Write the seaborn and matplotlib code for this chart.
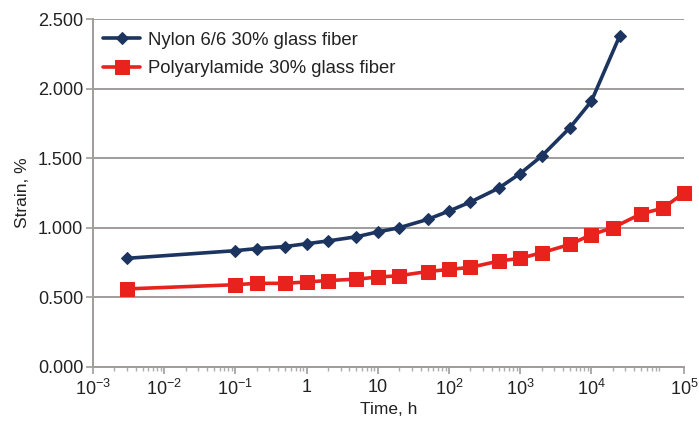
import numpy as np
import pandas as pd
import matplotlib
matplotlib.use("Agg")
import matplotlib.pyplot as plt
import matplotlib.ticker as mticker
import seaborn as sns

# Creep strain vs. time for two glass-filled polyamides
nylon_time = [0.003, 0.1, 0.2, 0.5, 1, 2, 5, 10, 20, 50, 100, 200, 500,
              1000, 2000, 5000, 10000, 25000]
nylon_strain = [0.78, 0.835, 0.85, 0.865, 0.885, 0.905, 0.935, 0.97, 1.0,
                1.06, 1.12, 1.185, 1.285, 1.39, 1.515, 1.72, 1.91, 2.38]

paa_time = [0.003, 0.1, 0.2, 0.5, 1, 2, 5, 10, 20, 50, 100, 200, 500,
            1000, 2000, 5000, 10000, 20000, 50000, 100000, 200000]
paa_strain = [0.56, 0.59, 0.60, 0.60, 0.61, 0.62, 0.63, 0.645, 0.655, 0.685,
              0.70, 0.715, 0.76, 0.78, 0.82, 0.88, 0.95, 1.0, 1.10, 1.14, 1.25]

series_names = ["Nylon 6/6 30% glass fiber", "Polyarylamide 30% glass fiber"]

x_ticks = [1e-3, 1e-2, 1e-1, 1, 10, 1e2, 1e3, 1e4, 2e5]
x_tick_labels = [r"$10^{-3}$", r"$10^{-2}$", r"$10^{-1}$", "1", "10",
                 r"$10^{2}$", r"$10^{3}$", r"$10^{4}$", r"$10^{5}$"]
y_ticks = [0.0, 0.5, 1.0, 1.5, 2.0, 2.5]

df = pd.concat([
    pd.DataFrame({"time": nylon_time, "strain": nylon_strain, "series": series_names[0]}),
    pd.DataFrame({"time": paa_time, "strain": paa_strain, "series": series_names[1]}),
])

sns.set_theme(style="white")
plt.rcParams["font.family"] = ["Liberation Sans", "DejaVu Sans"]
plt.rcParams["mathtext.fontset"] = "custom"
plt.rcParams["mathtext.rm"] = "Liberation Sans"
plt.rcParams["mathtext.it"] = "Liberation Sans:italic"

fig = plt.figure(figsize=(6.99, 4.22), dpi=100)
ax = fig.add_axes([0.133, 0.131, 0.8455, 0.8233])

palette = {series_names[0]: "#1c3560", series_names[1]: "#e8231e"}
markers = {series_names[0]: "D", series_names[1]: "s"}
sizes = {series_names[0]: 6.5, series_names[1]: 9.5}

for name in series_names:
    sub = df[df["series"] == name]
    sns.lineplot(data=sub, x="time", y="strain", ax=ax, color=palette[name],
                 marker=markers[name], markersize=sizes[name],
                 markeredgecolor=palette[name], linewidth=2.6,
                 label=name, clip_on=False, zorder=3)

ax.set_xscale("log")
ax.set_xlim(1e-3, 2e5)
ax.set_ylim(0, 2.5)

ax.xaxis.set_major_locator(mticker.FixedLocator(x_ticks))
ax.xaxis.set_major_formatter(mticker.FixedFormatter(x_tick_labels))
ax.xaxis.set_minor_locator(mticker.LogLocator(base=10, subs=np.arange(2, 10), numticks=20))
ax.xaxis.set_minor_formatter(mticker.NullFormatter())
ax.set_yticks(y_ticks)
ax.yaxis.set_major_formatter(mticker.FormatStrFormatter("%.3f"))

ax.grid(axis="y", color="#a09c9c", linewidth=1.4)
ax.grid(axis="x", visible=False)
for side in ["top", "right"]:
    ax.spines[side].set_visible(False)
for side in ["left", "bottom"]:
    ax.spines[side].set_color("#a09c9c")
    ax.spines[side].set_linewidth(1.4)

ax.tick_params(axis="y", which="major", direction="out", length=5, width=1.2,
               color="#a09c9c", labelsize=13, labelcolor="#222222", pad=2, left=True)
ax.tick_params(axis="x", which="major", direction="out", length=5, width=1.2,
               color="#a09c9c", labelsize=13, labelcolor="#222222", pad=4, bottom=True)
ax.tick_params(axis="x", which="minor", direction="out", length=3, width=1.0,
               color="#b0acac", bottom=True)

ax.set_xlabel("Time, h", fontsize=12.5, color="#222222", labelpad=2)
ax.set_ylabel("Strain, %", fontsize=12.5, color="#222222", labelpad=6)

leg = ax.legend(loc="upper left", frameon=False, fontsize=13.3,
                handlelength=2.0, handletextpad=0.4, borderaxespad=0.0,
                labelspacing=0.6, bbox_to_anchor=(0.005, 0.985))
for t in leg.get_texts():
    t.set_color("#222222")

fig.savefig("out.png", dpi=100)
